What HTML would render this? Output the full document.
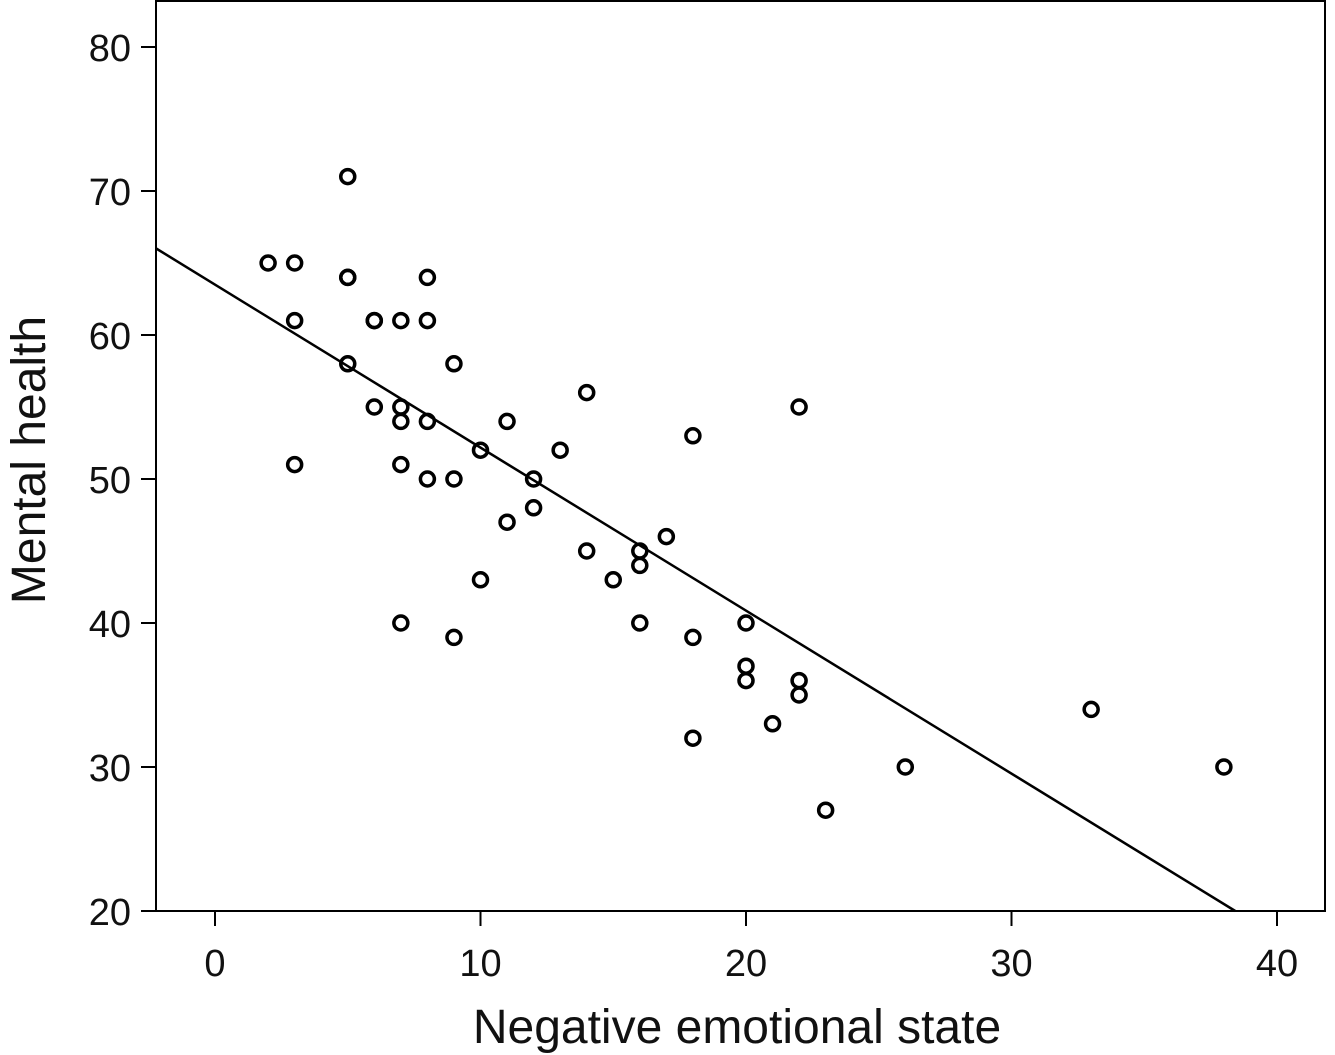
<!DOCTYPE html>
<html><head><meta charset="utf-8"><style>
html,body{margin:0;padding:0;background:#fff;}
svg{display:block;font-family:"Liberation Sans",Arial,sans-serif;}
</style></head><body>
<svg id="chart" width="1335" height="1055" viewBox="0 0 1335 1055"></svg>
<script>
const xTicks=[0,10,20,30,40];
const yTicks=[20,30,40,50,60,70,80];
const xVals=[2,3,3,3,5,5,5,5,6,6,6,7,7,7,7,7,8,8,8,8,9,9,9,10,10,11,11,12,12,13,14,14,15,16,16,16,17,18,18,18,20,20,20,21,22,22,22,23,26,33,38];
const yVals=[65,65,61,51,71,64,64,58,61,61,55,61,55,54,51,40,64,61,54,50,58,50,39,52,43,54,47,50,48,52,56,45,43,45,44,40,46,53,39,32,40,37,36,33,55,36,35,27,30,34,30];
const fitLine=[63.5,-1.132];
const NS="http://www.w3.org/2000/svg";
const svg=document.getElementById('chart');
const X=v=>215+v*26.55;
const Y=v=>911-(v-20)*14.4;
const L=156,R=1325,T=1,B=911;
function mk(t,a){const e=document.createElementNS(NS,t);for(const k in a)e.setAttribute(k,a[k]);svg.appendChild(e);return e;}
const frame=mk('rect',{x:L,y:T,width:R-L,height:B-T,fill:'none',stroke:'#000','stroke-width':2});


yTicks.forEach(v=>{
 const t=mk('line',{x1:141,x2:L,y1:Y(v),y2:Y(v),stroke:'#000','stroke-width':2});
 
 
 const l=mk('text',{x:131,y:Y(v)+14,'text-anchor':'end','font-size':38,fill:'#111'});
 l.textContent=v;
 
 
});
xTicks.forEach(v=>{
 const t=mk('line',{x1:X(v),x2:X(v),y1:B,y2:926,stroke:'#000','stroke-width':2});
 
 
 const l=mk('text',{x:X(v),y:976,'text-anchor':'middle','font-size':38,fill:'#111'});
 l.textContent=v;
 
 
});
const xa=(L-215)/26.55, xb=(20-fitLine[0])/fitLine[1];
const ln=mk('line',{x1:X(xa),y1:Y(fitLine[0]+fitLine[1]*xa),x2:X(xb),y2:Y(20),stroke:'#000','stroke-width':2.5});


xVals.forEach((v,i)=>{
 const c=mk('circle',{cx:X(v),cy:Y(yVals[i]),r:7,fill:'none',stroke:'#000','stroke-width':3.5});
 
 
});
const xt=mk('text',{x:737,y:1043,'text-anchor':'middle','font-size':48,fill:'#111'});
xt.textContent='Negative emotional state';


const yt=mk('text',{x:0,y:0,'text-anchor':'middle','font-size':48,fill:'#111',transform:'translate(45,460) rotate(-90)'});
yt.textContent='Mental health';


</script>
</body></html>
